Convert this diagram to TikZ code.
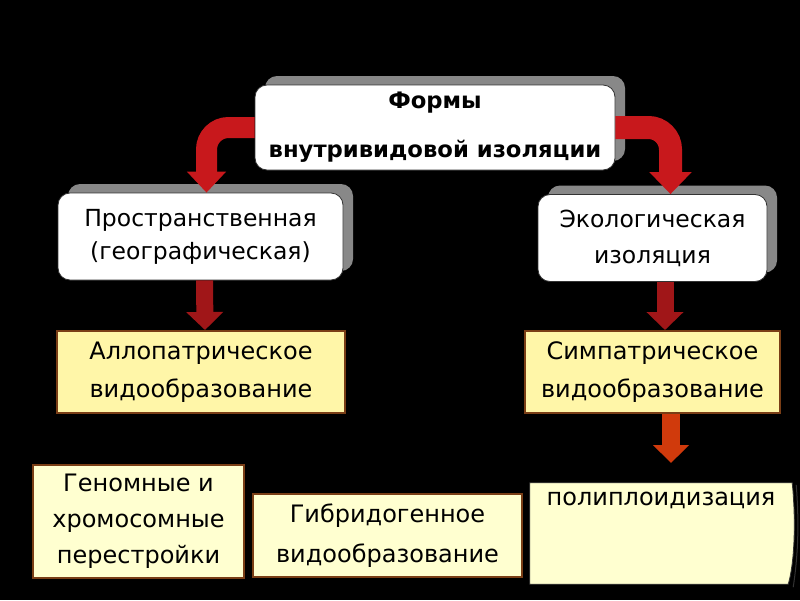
\documentclass[tikz,border=0pt]{standalone}
\usepackage{fontspec}
\setmainfont{DejaVu Sans}
\usetikzlibrary{arrows.meta,shadows,calc}
\definecolor{shadowgray}{RGB}{136,136,136}
\definecolor{arrowred}{RGB}{200,24,28}
\definecolor{darkred}{RGB}{160,22,24}
\definecolor{arroworange}{RGB}{208,58,12}
\definecolor{boxyellow}{RGB}{255,246,168}
\definecolor{paleyellow}{RGB}{255,255,208}
\definecolor{boxbrown}{RGB}{122,62,22}
\begin{document}
\begin{tikzpicture}[x=1pt,y=-1pt,
  txt/.style={font=\fontsize{23.5}{33}\selectfont},
  whitebox/.style={draw=black!80, line width=0.8pt, fill=white, rounded corners=12pt,
    align=center, inner sep=0pt, txt,
    drop shadow={shadow xshift=10pt, shadow yshift=9pt, fill=shadowgray, opacity=1}},
  yellowbox/.style={draw=boxbrown, line width=2pt, fill=boxyellow, align=center, inner sep=0pt,
    font=\fontsize{24}{38}\selectfont},
  palebox/.style={draw=boxbrown, line width=2pt, fill=paleyellow, align=center, inner sep=0pt,
    font=\fontsize{24}{36}\selectfont},
  curvearrow/.style={arrowred, line width=21pt, rounded corners=22pt,
    -{Triangle[width=38pt,length=21pt]}},
  downarrow/.style={darkred, line width=17pt, -{Triangle[width=36pt,length=18pt]}},
  orangearrow/.style={arroworange, line width=18pt, -{Triangle[width=35pt,length=18pt]}}
]
\fill[black] (0,0) rectangle (800,600);
\useasboundingbox (0,0) rectangle (800,600);

% boxes
\node (top) [whitebox, minimum width=360pt, minimum height=85pt,
  font=\bfseries\fontsize{22.7}{49}\selectfont] at (435,127.5)
  {Формы\\внутривидовой изоляции};
\node (geo) [whitebox, minimum width=285pt, minimum height=87pt] at (200.5,236.5)
  {Пространственная\\(географическая)};
\node (eco) [whitebox, minimum width=229pt, minimum height=87pt,
  font=\fontsize{23.5}{36}\selectfont] at (652.5,238)
  {Экологическая\\изоляция};
\node (allo) [yellowbox, minimum width=288pt, minimum height=82pt] at (201,372)
  {Аллопатрическое\\видообразование};
\node (simp) [yellowbox, minimum width=255pt, minimum height=82pt] at (652.5,372)
  {Симпатрическое\\видообразование};
\node (genom) [palebox, minimum width=211pt, minimum height=113pt] at (138.5,521)
  {Геномные и\\хромосомные\\перестройки};
\node (hybrid) [palebox, minimum width=269pt, minimum height=83pt,
  font=\fontsize{24}{40}\selectfont] at (387.5,535.5)
  {Гибридогенное\\видообразование};

% polyploidization sheet
\node (poly) [minimum width=262pt, minimum height=101pt, inner sep=0pt] at (661,533.5) {};
\draw[black!80, line width=0.8pt, fill=paleyellow]
  (poly.north west) -- (poly.north east)
  .. controls ($(poly.north east)+(4,40)$) and ($(poly.south east)+(2,-20)$) .. ($(poly.south east)+(-4,0)$)
  -- (poly.south west) -- cycle;
\draw[black!80, line width=1pt]
  ($(poly.north east)+(4,2)$) .. controls ($(poly.north east)+(7,40)$) and ($(poly.south east)+(6,-30)$) .. ($(poly.south east)+(1,3)$);
\node (polytext) [anchor=north, font=\fontsize{24}{30}\selectfont, inner sep=0pt]
  at ([yshift=-9]poly.north) {полиплоидизация};

% arrows
\coordinate (polytip) at (671,463);
\draw[curvearrow] (top.west) -| ([xshift=6pt]geo.north);
\draw[curvearrow, line width=23pt, -{Triangle[width=41pt,length=22pt]}] (top.east) -| ([xshift=18pt]eco.north);
\draw[downarrow] ([xshift=4pt]geo.south) -- ([xshift=4pt]allo.north);
\draw[downarrow] ([xshift=12.5pt]eco.south) -- ([xshift=12.5pt]simp.north);
\draw[orangearrow] ([xshift=18.5pt]simp.south) -- (polytip);
\end{tikzpicture}
\end{document}
